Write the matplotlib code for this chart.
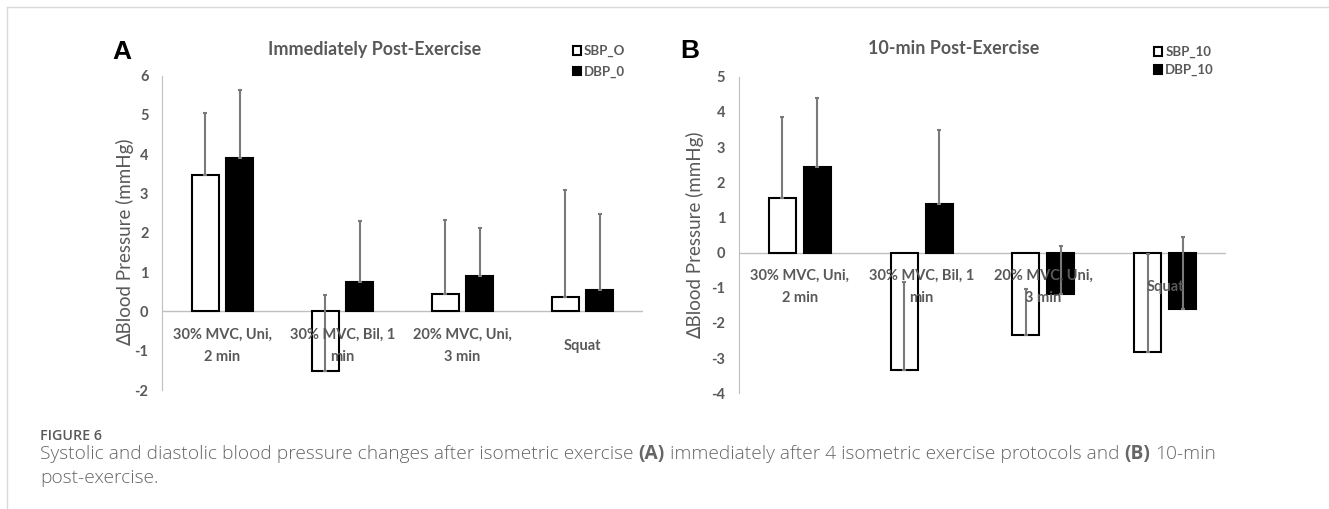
import matplotlib.pyplot as plt
from matplotlib.lines import Line2D
import numpy as np

categories = ["30% MVC, Uni,\n2 min", "30% MVC, Bil, 1\nmin", "20% MVC, Uni,\n3 min", "Squat"]

# panel A: immediately post-exercise (error bars drawn upward only)
sbp_0 = [3.46, -1.51, 0.45, 0.36]
sbp_0_err = [1.58, 1.92, 1.87, 2.74]
dbp_0 = [3.91, 0.75, 0.89, 0.55]
dbp_0_err = [1.73, 1.54, 1.24, 1.93]

# panel B: 10-min post-exercise
sbp_10 = [1.56, -3.33, -2.34, -2.84]
sbp_10_err = [2.30, 2.48, 1.30, 2.81]
dbp_10 = [2.44, 1.39, -1.17, -1.61]
dbp_10_err = [1.95, 2.10, 1.37, 2.05]

GRAY = '#595959'
W, H = 1329, 509

plt.rcParams['font.family'] = ['Lato', 'DejaVu Sans']
plt.rcParams['axes.unicode_minus'] = False

fig = plt.figure(figsize=(W / 100, H / 100), dpi=100)


def fx(px):
    return px / W


def fy(py):
    return 1 - py / H


def draw_panel(rect, sbp, sbp_err, dbp, dbp_err, ylim, names, ylab_pos, leg_pos, leg_space):
    ax = fig.add_axes(rect)
    x = np.arange(len(categories))
    w, off = 0.222, 0.143
    ax.bar(x - off, sbp, w, color='white', edgecolor='black', linewidth=1.5, label=names[0], zorder=2)
    ax.bar(x + off, dbp, w, color='black', edgecolor='black', linewidth=1.5, label=names[1], zorder=2)
    zeros = np.zeros(len(categories))
    ax.errorbar(x - off, sbp, yerr=[zeros, sbp_err], fmt='none', ecolor='#7a7a7a',
                elinewidth=1.5, capsize=1.5, capthick=1.5, zorder=3)
    ax.errorbar(x + off, dbp, yerr=[zeros, dbp_err], fmt='none', ecolor='#7a7a7a',
                elinewidth=1.5, capsize=1.5, capthick=1.5, zorder=3)
    ax.axhline(0, color='#bfbfbf', lw=1, zorder=1)
    ax.set_xlim(-0.5, 3.5)
    ax.set_ylim(*ylim)
    ticks = list(range(ylim[0], ylim[1] + 1))
    ax.set_yticks(ticks, [str(t) for t in ticks], fontweight='bold', fontsize=10.5, color=GRAY)
    for s in ['top', 'right', 'bottom']:
        ax.spines[s].set_visible(False)
    ax.spines['left'].set_color('#bfbfbf')
    ax.set_xticks([])
    ax.tick_params(axis='y', length=0, pad=10)
    ax.set_ylabel('∆Blood Pressure (mmHg)', fontsize=13.5, color=GRAY)
    ax.yaxis.set_label_coords(*ylab_pos)
    for i, c in enumerate(categories):
        ax.annotate(c, (i, 0), xytext=(0, -24.8), textcoords='offset points', ha='center', va='center',
                    fontsize=10.5, fontweight='bold', color=GRAY, linespacing=1.8, zorder=5)
    ax.legend(loc='upper left', bbox_to_anchor=leg_pos, bbox_transform=fig.transFigure, frameon=False,
              prop={'weight': 'bold', 'size': 9.5}, labelcolor=GRAY,
              handlelength=0.6, handleheight=0.6, handletextpad=0.25, labelspacing=leg_space,
              borderpad=0, borderaxespad=0)
    return ax


draw_panel([fx(162.3), fy(390), fx(480.4), 314.3 / H], sbp_0, sbp_0_err, dbp_0, dbp_0_err,
           (-2, 6), ['SBP_O', 'DBP_0'], (-0.059, 0.47), (fx(572.7), fy(45)), 0.65)
draw_panel([fx(739), fy(393.3), fx(487), 316.6 / H], sbp_10, sbp_10_err, dbp_10, dbp_10_err,
           (-4, 5), ['SBP_10', 'DBP_10'], (-0.072, 0.5), (fx(1154), fy(46)), 0.45)

fig.text(fx(374.5), fy(49), 'Immediately Post-Exercise', ha='center', va='center',
         fontsize=12.9, fontweight='bold', color=GRAY)
fig.text(fx(953.5), fy(49), '10-min Post-Exercise', ha='center', va='center',
         fontsize=12.9, fontweight='bold', color=GRAY)
fig.text(fx(122), fy(52), 'A', ha='center', va='center', fontsize=19, fontweight='bold',
         family='Liberation Sans')
fig.text(fx(689.5), fy(51.5), 'B', ha='center', va='center', fontsize=19, fontweight='bold',
         family='Liberation Sans')

# page frame lines
fig.add_artist(Line2D([fx(7), 1], [fy(7), fy(7)], transform=fig.transFigure, color='#d9d9d9', lw=1))
fig.add_artist(Line2D([fx(7), fx(7)], [fy(7), 0], transform=fig.transFigure, color='#d9d9d9', lw=1))

# caption
cap_font = ['Open Sans', 'DejaVu Sans']
cap_size = 13.75
fig.text(fx(40), fy(440), 'FIGURE 6', ha='left', va='baseline', fontsize=10.3, color=GRAY,
         family=cap_font, fontweight='semibold')
renderer = fig.canvas.get_renderer()


def text_width(t):
    return t.get_window_extent(renderer).width / W


probe = fig.text(0, 0, 'a a', fontsize=cap_size, family=cap_font, fontweight='light')
probe2 = fig.text(0, 0, 'aa', fontsize=cap_size, family=cap_font, fontweight='light')
space = text_width(probe) - text_width(probe2)
probe.remove()
probe2.remove()

parts = [('Systolic and diastolic blood pressure changes after isometric exercise', 'light'),
         ('(A)', 'bold'),
         ('immediately after 4 isometric exercise protocols and', 'light'),
         ('(B)', 'bold'),
         ('10-min', 'light')]
xpos = fx(40)
for txt, wt in parts:
    t = fig.text(xpos, fy(459), txt, ha='left', va='baseline', fontsize=cap_size, fontweight=wt,
                 color='#666666', family=cap_font)
    xpos += text_width(t) + space
fig.text(fx(40), fy(482.7), 'post-exercise.', ha='left', va='baseline', fontsize=cap_size,
         fontweight='light', color='#666666', family=cap_font)

fig.savefig('out.png', dpi=100)
